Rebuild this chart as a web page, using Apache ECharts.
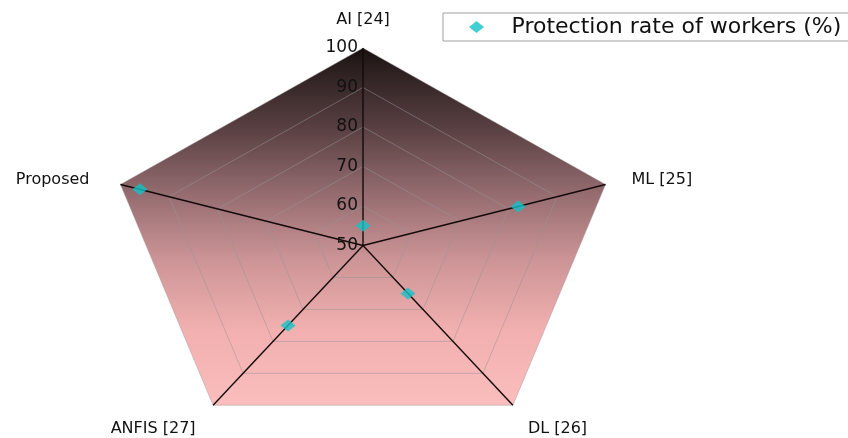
<!DOCTYPE html>
<html>
<head>
<meta charset="utf-8">
<script src="https://cdn.jsdelivr.net/npm/echarts@6/dist/echarts.min.js"></script>
<style>
  html, body { margin: 0; padding: 0; background: #ffffff; }
  #chart { width: 848px; height: 438px; }
</style>
</head>
<body>
<div id="chart"></div>
<script>
// Radar categories, values and scale ticks
const indicators = ['AI [24]', 'ML [25]', 'DL [26]', 'ANFIS [27]', 'Proposed'];
const protectionRate = [55, 82, 65, 75, 96];
const tickValues = [50, 60, 70, 80, 90, 100];
const seriesName = 'Protection rate of workers (%)';
const scaleMin = 50;
const scaleMax = 100;

// Unit direction of spoke i, clockwise from the top
function spokeDir(i) {
  const a = Math.PI / 2 - (2 * Math.PI * i) / indicators.length;
  return [Math.cos(a), Math.sin(a)];
}
// Value on spoke i -> cartesian point in the unit plane
function toXY(i, v) {
  const r = (v - scaleMin) / (scaleMax - scaleMin);
  const d = spokeDir(i);
  return [r * d[0], r * d[1]];
}

// Where each category name sits relative to its vertex
const nameLayout = [
  { dx: 0, dy: -28, align: 'center' },
  { dx: 26, dy: -5, align: 'left' },
  { dx: 15, dy: 24, align: 'left' },
  { dx: -60, dy: 24, align: 'center' },
  { dx: -31, dy: -5, align: 'right' }
];

const nameFont = { fontFamily: '"DejaVu Sans", sans-serif', fontSize: 16, fill: '#111111' };
const tickFont = { fontFamily: '"DejaVu Sans", sans-serif', fontSize: 17, fill: '#111111' };

function renderFrame(params, api) {
  const children = [];
  const outer = indicators.map((_, i) => api.coord(toXY(i, scaleMax)));
  children.push({
    type: 'polygon',
    shape: { points: outer },
    style: {
      fill: new echarts.graphic.LinearGradient(0, 0, 0, 1, [
        { offset: 0, color: '#170e0e' },
        { offset: 0.04, color: '#261b1b' },
        { offset: 0.23, color: '#5a4143' },
        { offset: 0.4, color: '#926a6e' },
        { offset: 0.59, color: '#cc9496' },
        { offset: 0.79, color: '#f2b0b0' },
        { offset: 1, color: '#fbbdbd' }
      ]),
      stroke: 'rgba(160,150,150,0.45)',
      lineWidth: 1
    }
  });
  // inner rings
  tickValues.slice(1, -1).forEach((t) => {
    children.push({
      type: 'polygon',
      shape: { points: indicators.map((_, i) => api.coord(toXY(i, t))) },
      style: { fill: 'none', stroke: 'rgba(150,150,150,0.5)', lineWidth: 1 }
    });
  });
  // spokes
  const c = api.coord([0, 0]);
  outer.forEach((p) => {
    children.push({
      type: 'line',
      shape: { x1: c[0], y1: c[1], x2: p[0], y2: p[1] },
      style: { stroke: '#140a0a', lineWidth: 1.4 }
    });
  });
  // scale labels along the first spoke
  tickValues.forEach((t) => {
    const p = api.coord(toXY(0, t));
    children.push({
      type: 'text',
      x: p[0] - 5,
      y: p[1],
      style: Object.assign({ text: String(t), align: 'right', verticalAlign: 'middle' }, tickFont)
    });
  });
  // category names
  indicators.forEach((name, i) => {
    const p = outer[i];
    const L = nameLayout[i];
    children.push({
      type: 'text',
      x: p[0] + L.dx,
      y: p[1] + L.dy,
      style: Object.assign({ text: name, align: L.align, verticalAlign: 'middle' }, nameFont)
    });
  });
  return { type: 'group', children: children };
}

const chart = echarts.init(document.getElementById('chart'), null, { renderer: 'canvas' });
chart.setOption({
  animation: false,
  backgroundColor: '#ffffff',
  grid: { left: 108, width: 510, top: 48, height: 1.85 * 197.5 },
  xAxis: { type: 'value', min: -1, max: 1, show: false },
  yAxis: { type: 'value', min: -0.85, max: 1, show: false },
  legend: {
    left: 443,
    top: 13,
    orient: 'horizontal',
    padding: [3, 30, 3, 26],
    borderColor: '#a0a0a0',
    borderWidth: 1,
    itemWidth: 60,
    itemHeight: 12,
    icon: 'path://M0,6L7.5,0L15,6L7.5,12Z',
    textStyle: { fontFamily: '"DejaVu Sans", sans-serif', fontSize: 22, color: '#111111' },
    data: [seriesName]
  },
  series: [
    {
      type: 'custom',
      name: 'frame',
      coordinateSystem: 'cartesian2d',
      silent: true,
      z: 1,
      data: [[0, 0]],
      renderItem: renderFrame
    },
    {
      type: 'scatter',
      name: seriesName,
      z: 5,
      symbol: 'diamond',
      symbolSize: [15, 12],
      itemStyle: { color: '#14c2c7' },
      data: protectionRate.map((v, i) => toXY(i, v))
    }
  ]
});
</script>
</body>
</html>
